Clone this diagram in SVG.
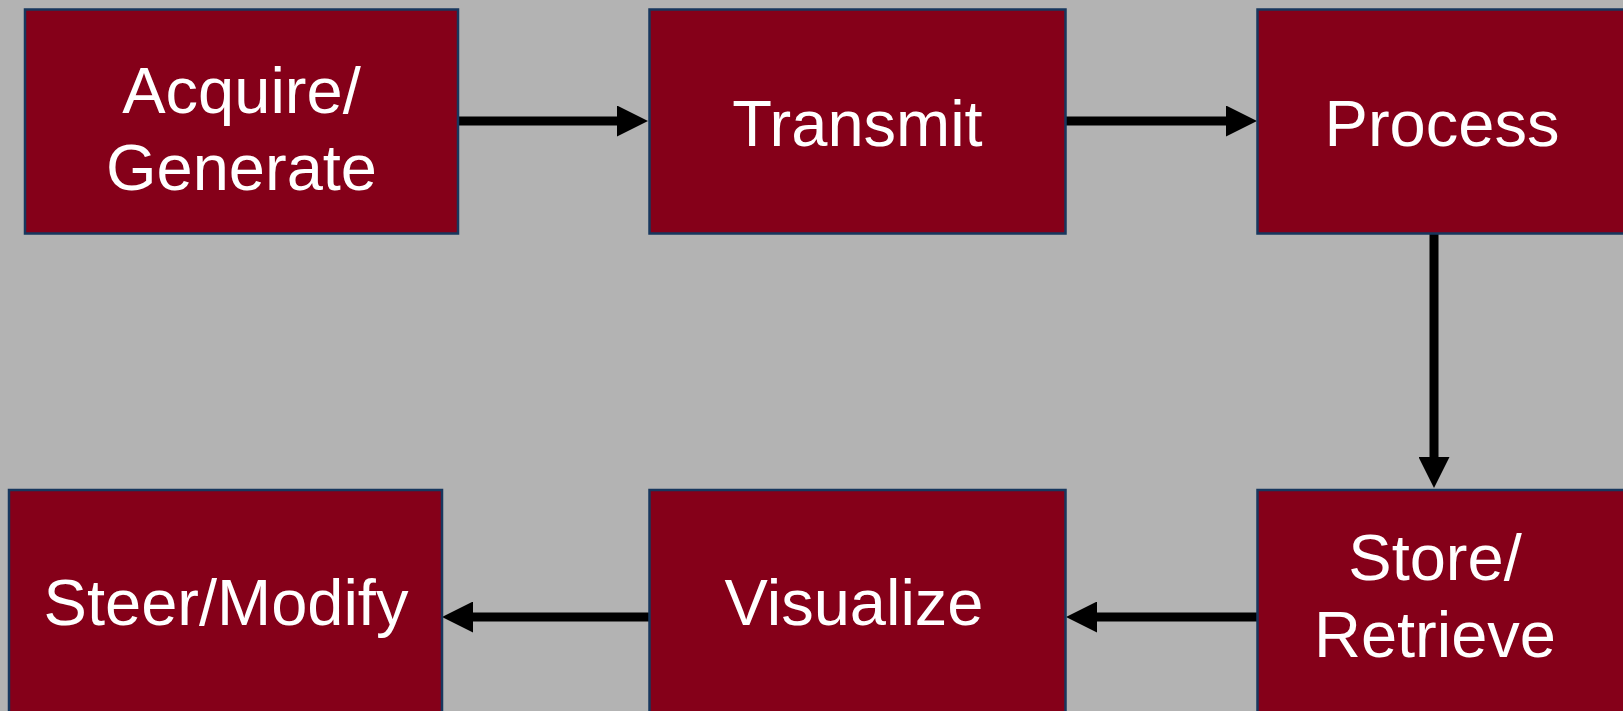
<svg xmlns="http://www.w3.org/2000/svg" width="1623" height="711" viewBox="0 0 1623 711">
  <style>
    .box { fill: #850019; stroke: #17375e; stroke-width: 2.5; }
    .lbl { fill: #ffffff; font-family: "Liberation Sans", Arial, sans-serif; font-size: 65px; text-anchor: middle; }
    .conn { stroke: #000000; stroke-width: 9; fill: none; marker-end: url(#arrow); }
  </style>
  <defs>
    <marker id="arrow" markerUnits="userSpaceOnUse" viewBox="0 0 31 31" markerWidth="31" markerHeight="31" refX="1" refY="15.5" orient="auto">
      <path d="M0,0 L31,15.5 L0,31 Z" fill="#000000"/>
    </marker>
  </defs>
  <rect x="0" y="0" width="1623" height="711" fill="#b3b3b3"/>

  <g id="connectors">
    <line class="conn" x1="458" y1="121" x2="618" y2="121"/>
    <line class="conn" x1="1066" y1="121" x2="1227" y2="121"/>
    <line class="conn" x1="1434" y1="233" x2="1434" y2="458"/>
    <line class="conn" x1="1257" y1="617" x2="1096" y2="617"/>
    <line class="conn" x1="649" y1="617" x2="472" y2="617"/>
  </g>

  <g id="acquire">
    <rect class="box" x="25" y="9.5" width="433" height="224"/>
    <text class="lbl" x="241.5" y="113">Acquire/</text>
    <text class="lbl" x="241.5" y="190">Generate</text>
  </g>
  <g id="transmit">
    <rect class="box" x="649.5" y="9.5" width="416" height="224"/>
    <text class="lbl" x="857.5" y="145.5">Transmit</text>
  </g>
  <g id="process">
    <rect class="box" x="1257.5" y="9.5" width="370" height="224"/>
    <text class="lbl" x="1442" y="145.5">Process</text>
  </g>
  <g id="store">
    <rect class="box" x="1257.5" y="490" width="370" height="225"/>
    <text class="lbl" x="1435" y="580">Store/</text>
    <text class="lbl" x="1435" y="656.5">Retrieve</text>
  </g>
  <g id="visualize">
    <rect class="box" x="649.5" y="490" width="416" height="225"/>
    <text class="lbl" x="854" y="625">Visualize</text>
  </g>
  <g id="steer">
    <rect class="box" x="9" y="490" width="433" height="225"/>
    <text class="lbl" x="226" y="625">Steer/Modify</text>
  </g>
</svg>
